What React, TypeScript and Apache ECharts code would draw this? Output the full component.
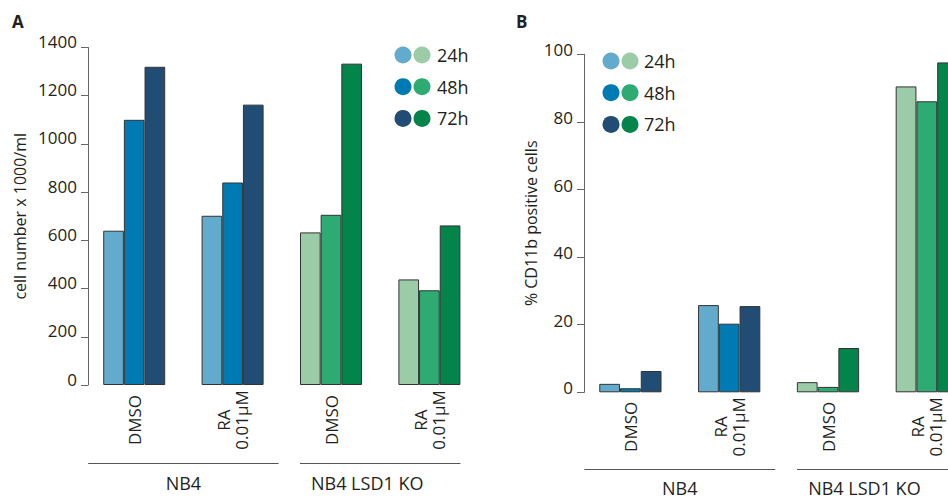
import React, { useEffect, useRef } from "react";
import * as echarts from "echarts";

const categories = ["DMSO", "RA\n0.01µM", "DMSO", "RA\n0.01µM"];
const groupOfCategory = [0, 0, 1, 1];
const groups = ["NB4", "NB4 LSD1 KO"];
const timepoints = ["24h", "48h", "72h"];

const cellNumber24h = [640, 702, 633, 438];
const cellNumber48h = [1100, 840, 706, 393];
const cellNumber72h = [1320, 1163, 1333, 662];

const cd11b24h = [2.5, 25.8, 3.0, 90.5];
const cd11b48h = [1.2, 20.3, 1.6, 86.1];
const cd11b72h = [6.3, 25.5, 13.1, 97.6];

const cellTicks = { min: 0, max: 1400, interval: 200 };
const cd11bTicks = { min: 0, max: 100, interval: 20 };

const blues = ["#62abcd", "#007ab2", "#214d74"];
const greens = ["#9ccba8", "#2dab73", "#03844a"];
const palettes = [blues, greens];

const FONT = "'Open Sans', 'Noto Sans', sans-serif";
const TEXT = "#231f20";

export default function App() {
  const ref = useRef<HTMLDivElement>(null);
  useEffect(() => {
    if (!ref.current) return;
    const chart = echarts.init(ref.current, null, { renderer: "svg" });
    const panels = [
      {
        data: [cellNumber24h, cellNumber48h, cellNumber72h],
        ticks: cellTicks,
        name: "cell number x 1000/ml",
        grid: { left: 85, top: 47.5, height: 337.5, width: 393.6 },
        nameGap: 60,
        labelLH: 12,
        catMargin: 35,
      },
      {
        data: [cd11b24h, cd11b48h, cd11b72h],
        ticks: cd11bTicks,
        name: "% CD11b positive cells",
        grid: { left: 581, top: 54.3, height: 338, width: 395.2 },
        nameGap: 45,
        labelLH: 9,
        catMargin: 34.5,
      },
    ];

    const series: any[] = [];
    panels.forEach((p, pi) => {
      p.data.forEach((vals, t) => {
        series.push({
          type: "bar",
          name: timepoints[t] + "-" + pi,
          xAxisIndex: pi,
          yAxisIndex: pi,
          barGap: "0%",
          barCategoryGap: "37%",
          itemStyle: { borderColor: "#333", borderWidth: 1 },
          data: vals.map((v, i) => ({
            value: v,
            itemStyle: { color: palettes[groupOfCategory[i]][t], borderColor: "#333", borderWidth: 1 },
          })),
        });
      });
    });

    const option: any = {
      animation: false,
      backgroundColor: "#fff",
      textStyle: { fontFamily: FONT },
      grid: panels.map((p) => ({ ...p.grid, containLabel: false, outerBoundsMode: "none" })),
      xAxis: panels.map((p, pi) => ({
        type: "category",
        gridIndex: pi,
        data: categories,
        axisLine: { show: false },
        axisTick: { show: false },
        axisLabel: {
          interval: 0,
          rotate: 90,
          align: "center",
          verticalAlign: "middle",
          margin: p.catMargin,
          fontSize: 17,
          lineHeight: 18,
          color: TEXT,
          fontFamily: FONT,
        },
      })),
      yAxis: panels.map((p, pi) => ({
        type: "value",
        gridIndex: pi,
        min: p.ticks.min,
        max: p.ticks.max,
        interval: p.ticks.interval,
        offset: -3,
        splitLine: { show: false },
        axisLine: { show: true, lineStyle: { color: "#666", width: 1 } },
        axisTick: { show: true, length: 7, lineStyle: { color: "#666" } },
        axisLabel: {
          margin: 11,
          fontSize: 17,
          color: TEXT,
          fontFamily: FONT,
          verticalAlign: "bottom",
          lineHeight: p.labelLH,
          formatter: (v: number) => String(v),
        },
        name: p.name,
        nameLocation: "middle",
        nameRotate: 90,
        nameGap: p.nameGap,
        nameTextStyle: { fontSize: 16, color: TEXT, fontFamily: FONT },
      })),
      series,
    };
    chart.setOption(option);

    const graphic: any[] = [];
    graphic.push({ type: "text", x: 12, y: 13, style: { text: "A", font: `bold 17px ${FONT}`, fill: TEXT } });
    graphic.push({ type: "text", x: 516, y: 13, style: { text: "B", font: `bold 17px ${FONT}`, fill: TEXT } });

    const legendPos = [
      { cx: [403, 422], tx: 437, y0: 55 },
      { cx: [611, 630], tx: 644, y0: 61 },
    ];
    legendPos.forEach((lp) => {
      timepoints.forEach((tp, t) => {
        const y = lp.y0 + t * 31.7;
        palettes.forEach((pal, g) => {
          graphic.push({ type: "circle", shape: { cx: lp.cx[g], cy: y, r: 8.5 }, style: { fill: pal[t] } });
        });
        graphic.push({
          type: "text",
          x: lp.tx,
          y,
          style: { text: tp, font: `18px ${FONT}`, fill: TEXT, verticalAlign: "middle", textAlign: "left" },
        });
      });
    });

    const ext = [46, 31];
    const labelShift = [0, -13];
    const lineY = [463.5, 469.5];
    const labelY = [483, 488];
    panels.forEach((p, pi) => {
      groups.forEach((gName, g) => {
        const idx = groupOfCategory.map((gg, i) => (gg === g ? i : -1)).filter((i) => i >= 0);
        const x0 = (chart.convertToPixel({ xAxisIndex: pi } as any, idx[0]) as any) - ext[g];
        const x1 = (chart.convertToPixel({ xAxisIndex: pi } as any, idx[idx.length - 1]) as any) + ext[g];
        graphic.push({
          type: "line",
          shape: { x1: x0, y1: lineY[pi], x2: x1, y2: lineY[pi] },
          style: { stroke: "#555", lineWidth: 1.2 },
        });
        graphic.push({
          type: "text",
          x: (x0 + x1) / 2 + labelShift[g],
          y: labelY[pi],
          style: { text: gName, font: `18px ${FONT}`, fill: TEXT, textAlign: "center", verticalAlign: "middle" },
        });
      });
    });
    chart.setOption({ graphic });

    return () => chart.dispose();
  }, []);
  return <div ref={ref} style={{ position: "fixed", left: 0, top: 0, width: 948, height: 500 }} />;
}
